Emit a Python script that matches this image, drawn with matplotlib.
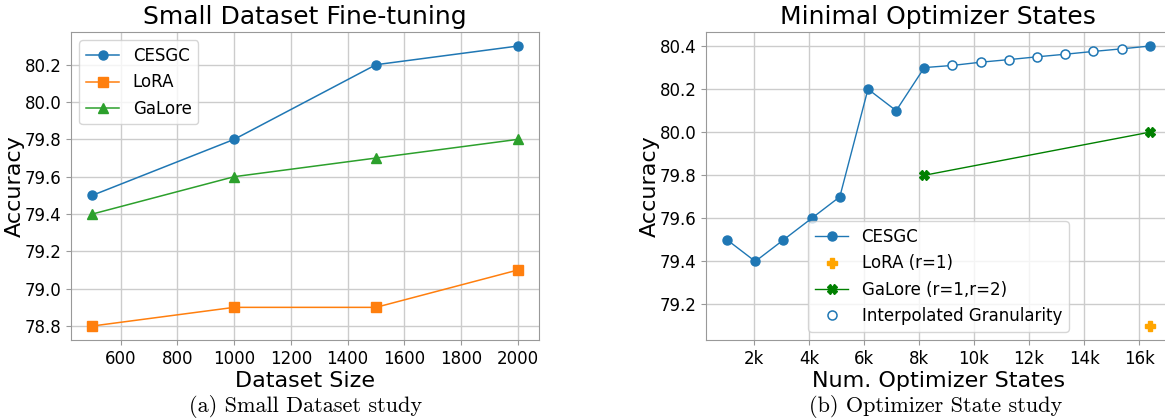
import matplotlib
matplotlib.use("Agg")
import matplotlib.pyplot as plt

# (a) small dataset study
dataset_sizes = [500, 1000, 1500, 2000]
acc_cesgc_a = [79.5, 79.8, 80.2, 80.3]
acc_lora_a = [78.8, 78.9, 78.9, 79.1]
acc_galore_a = [79.4, 79.6, 79.7, 79.8]
size_ticks = [600, 800, 1000, 1200, 1400, 1600, 1800, 2000]
acc_ticks_a = [78.8, 79.0, 79.2, 79.4, 79.6, 79.8, 80.0, 80.2]

# (b) optimizer state study
states_cesgc = [1024, 2048, 3072, 4096, 5120, 6144, 7168, 8192]
acc_cesgc_b = [79.5, 79.4, 79.5, 79.6, 79.7, 80.2, 80.1, 80.3]
states_interp = [9216, 10240, 11264, 12288, 13312, 14336, 15360]
acc_interp = [80.31, 80.325, 80.337, 80.35, 80.362, 80.375, 80.387]
states_last = [16384]
acc_last = [80.4]
states_lora = [16384]
acc_lora_b = [79.1]
states_galore = [8192, 16384]
acc_galore_b = [79.8, 80.0]
state_ticks = [2000, 4000, 6000, 8000, 10000, 12000, 14000, 16000]
state_tick_labels = ["2k", "4k", "6k", "8k", "10k", "12k", "14k", "16k"]

TICK_FS = 12
LABEL_FS = 16
TITLE_FS = 18
LEGEND_FS = 12


def style_axes(ax):
    ax.grid(True, color="#cccccc", lw=1)
    ax.set_axisbelow(True)
    for s in ax.spines.values():
        s.set_color("#999999")
    ax.tick_params(labelsize=TICK_FS, color="#999999", length=3.5)


fig = plt.figure(figsize=(11.65, 4.19), dpi=100)
ax1 = fig.add_axes([0.061, 0.1885, 0.4017, 0.735])
ax2 = fig.add_axes([0.606, 0.1885, 0.399, 0.735])

ax1.plot(dataset_sizes, acc_cesgc_a, marker="o", ms=6.5, lw=1.1, color="tab:blue", label="CESGC")
ax1.plot(dataset_sizes, acc_lora_a, marker="s", ms=6.5, lw=1.1, color="tab:orange", label="LoRA")
ax1.plot(dataset_sizes, acc_galore_a, marker="^", ms=6.5, lw=1.1, color="tab:green", label="GaLore")
ax1.set_title("Small Dataset Fine-tuning", fontsize=TITLE_FS)
ax1.set_xlabel("Dataset Size", fontsize=LABEL_FS, labelpad=2)
ax1.set_ylabel("Accuracy", fontsize=LABEL_FS, labelpad=0)
ax1.set_xticks(size_ticks)
ax1.set_yticks(acc_ticks_a)
ax1.legend(loc="upper left", fontsize=LEGEND_FS)
style_axes(ax1)

# CESGC line across measured + interpolated points
all_x = states_cesgc + states_interp + states_last
all_y = acc_cesgc_b + acc_interp + acc_last
ax2.plot(all_x, all_y, lw=1.0, color="tab:blue")
ax2.plot(states_cesgc + states_last, acc_cesgc_b + acc_last, ls="none", marker="o",
         ms=6.5, color="tab:blue")
ax2.plot([], [], marker="o", ms=6.5, lw=1.0, color="tab:blue", label="CESGC")
ax2.plot(states_lora, acc_lora_b, ls="none", marker="P", ms=7.5, color="orange", label="LoRA (r=1)")
ax2.plot(states_galore, acc_galore_b, marker="X", ms=6.5, lw=1.0, color="green",
         label="GaLore (r=1,r=2)")
ax2.plot(states_interp, acc_interp, ls="none", marker="o", ms=6.5, mfc="white",
         mec="tab:blue", mew=1.1, label="Interpolated Granularity")
ax2.set_title("Minimal Optimizer States", fontsize=TITLE_FS)
ax2.set_xlabel("Num. Optimizer States", fontsize=LABEL_FS, labelpad=2)
ax2.set_ylabel("Accuracy", fontsize=LABEL_FS, labelpad=0)
ax2.set_xticks(state_ticks)
ax2.set_xticklabels(state_tick_labels)
ax2.legend(loc="lower center", fontsize=LEGEND_FS)
style_axes(ax2)

fig.text(0.2625, 1 - 412 / 419, "(a) Small Dataset study", family="cmr10", fontsize=16,
         ha="center", va="baseline")
fig.text(0.803, 1 - 412 / 419, "(b) Optimizer State study", family="cmr10", fontsize=16,
         ha="center", va="baseline")

fig.savefig("out.png", dpi=100)
